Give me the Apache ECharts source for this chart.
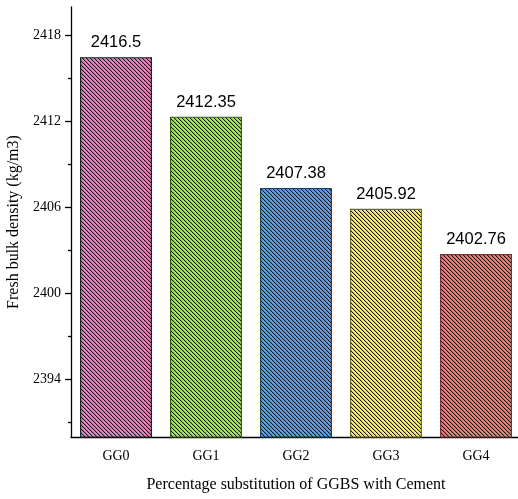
<!DOCTYPE html>
<html>
<head>
<meta charset="utf-8">
<script src="https://cdn.jsdelivr.net/npm/echarts@6/dist/echarts.min.js"></script>
<style>
html,body{margin:0;padding:0;background:#fff;}
#chart{width:518px;height:499px;}
</style>
</head>
<body>
<div id="chart"></div>
<script>
const categories = ['GG0', 'GG1', 'GG2', 'GG3', 'GG4'];
const densityValues = [2416.5, 2412.35, 2407.38, 2405.92, 2402.76];
const yMajorTicks = [2394, 2400, 2406, 2412, 2418];
const yMinorTicks = [2391, 2397, 2403, 2409, 2415];
const barFills = ['#F77BC0', '#A6EC45', '#55A3F2', '#FAF05A', '#F77878'];
const barBorders = ['#222222', '#3d5a1a', '#1f3f66', '#6e6a2a', '#6a3a3a'];

function makePattern(color) {
  const n = 4;
  const c = document.createElement('canvas');
  c.width = n; c.height = n;
  const g = c.getContext('2d');
  g.fillStyle = color;
  g.fillRect(0, 0, n, n);
  for (let y = 0; y < n; y++) {
    g.fillStyle = '#111';
    g.fillRect(y % n, y, 1, 1);
    g.fillStyle = 'rgba(17,17,17,0.2)';
    g.fillRect((y + 1) % n, y, 1, 1);
  }
  return c;
}

const chart = echarts.init(document.getElementById('chart'), null, {renderer: 'canvas'});
const serif = 'Liberation Serif';

const option = {
  backgroundColor: '#fff',
  animation: false,
  grid: {left: 71, top: 7, width: 450, height: 430, containLabel: false, outerBoundsMode: 'none'},
  xAxis: [{
    type: 'category',
    data: categories,
    name: 'Percentage substitution of GGBS with Cement',
    nameLocation: 'middle',
    nameGap: 40,
    nameTextStyle: {fontFamily: serif, fontSize: 16, color: '#000'},
    axisLine: {lineStyle: {color: '#000', width: 1.3}},
    axisTick: {alignWithLabel: true, length: 6, lineStyle: {color: '#000', width: 1.3}},
    axisLabel: {fontFamily: serif, fontSize: 14, color: '#000', margin: 12},
    splitLine: {show: false}
  }, {
    type: 'category',
    data: categories,
    position: 'bottom',
    axisLine: {show: false},
    axisTick: {interval: 0, length: 3, lineStyle: {color: '#000', width: 1.3}},
    axisLabel: {show: false},
    splitLine: {show: false}
  }],
  yAxis: [{
    type: 'value',
    min: 2390,
    max: 2420,
    name: 'Fresh bulk density (kg/m3)',
    nameLocation: 'middle',
    nameGap: 47,
    nameTextStyle: {fontFamily: serif, fontSize: 16, color: '#000'},
    axisLine: {show: true, lineStyle: {color: '#000', width: 1.3}},
    axisTick: {show: true, length: 6, customValues: yMajorTicks, lineStyle: {color: '#000', width: 1.3}},
    axisLabel: {fontFamily: serif, fontSize: 14, color: '#000', margin: 10, customValues: yMajorTicks, formatter: v => String(v)},
    splitLine: {show: false}
  }, {
    type: 'value',
    min: 2390,
    max: 2420,
    position: 'left',
    offset: 0,
    axisLine: {show: false},
    axisTick: {show: true, length: 3, customValues: yMinorTicks, lineStyle: {color: '#000', width: 1.3}},
    axisLabel: {show: false, customValues: yMinorTicks},
    splitLine: {show: false}
  }],
  series: [{
    type: 'bar',
    xAxisIndex: 0,
    yAxisIndex: 0,
    barCategoryGap: '20%',
    data: densityValues.map((v, i) => ({
      value: v,
      itemStyle: {
        color: {image: makePattern(barFills[i]), repeat: 'repeat'},
        borderColor: barBorders[i],
        borderWidth: 1.2
      }
    })),
    label: {
      show: true,
      position: 'top',
      distance: 6,
      fontFamily: 'Liberation Sans',
      fontSize: 16.5,
      color: '#000',
      formatter: p => String(p.value)
    }
  }]
};
chart.setOption(option);
</script>
</body>
</html>
